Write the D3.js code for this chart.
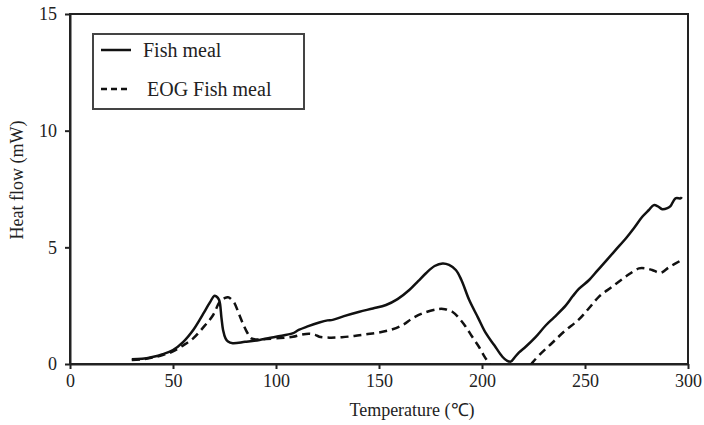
<!DOCTYPE html>
<html>
<head>
<meta charset="utf-8">
<script src="https://cdn.jsdelivr.net/npm/d3@7"></script>
<style>
  body { margin: 0; background: #fff; }
  text { font-family: "Liberation Serif", "Times New Roman", serif; fill: #222; }
</style>
</head>
<body>
<div id="chart"></div>
<script>
// Fish meal (solid)
var fish_temp = [30, 35, 40, 45, 50, 55, 60, 63, 65, 68, 70, 71, 72.4, 73.5, 74.3, 75.5, 76.7, 79, 85, 92,
    100, 108, 111, 115, 121, 125, 127.5, 133, 140.5, 147, 153.4, 159, 164.7, 169, 172.8, 177, 180.9, 184, 187.3, 190,
    193.8, 198, 201.8, 206, 209.9, 212, 213.9, 216, 218, 221.2, 226, 230.9, 235, 240.6, 244, 247, 252, 256, 260, 264.9,
    270, 274, 277.8, 281, 283.4, 285.5, 287.5, 290, 291.5, 293.9, 296.4, 297];
var fish_flow = [0.2, 0.22, 0.3, 0.42, 0.6, 0.95, 1.48, 1.9, 2.2, 2.65, 2.92, 2.9, 2.74, 2.0, 1.46, 1.1, 0.96, 0.89, 0.95, 1.03,
    1.17, 1.31, 1.46, 1.6, 1.78, 1.87, 1.89, 2.05, 2.24, 2.38, 2.53, 2.78, 3.17, 3.55, 3.89, 4.2, 4.31, 4.25, 4.03, 3.6,
    2.74, 2.0, 1.33, 0.8, 0.31, 0.15, 0.1, 0.3, 0.5, 0.74, 1.15, 1.65, 2.0, 2.5, 2.9, 3.22, 3.6, 4.0, 4.4, 4.89,
    5.4, 5.85, 6.31, 6.6, 6.81, 6.75, 6.63, 6.68, 6.77, 7.1, 7.1, 7.15];

// EOG Fish meal (dashed)
var eog_temp = [30, 35, 40, 45, 50, 55, 59.8, 65, 69.5, 72.7, 75, 76.7, 78, 79.9, 82, 83.9, 86, 88, 92, 95.2,
    100, 108.2, 112, 116, 119, 121, 126, 132, 138, 143.7, 150, 156.6, 162, 166.3, 172, 179.2, 182, 185.6, 189, 192.1,
    195, 198.5, 201, 203.4, 207, 212, 218, 222, 224.2, 228, 233.9, 240, 246.8, 252, 256.8, 263, 269.7, 276.2, 279.4, 282.6,
    286.7, 290.7, 296.4];
var eog_flow = [0.17, 0.2, 0.28, 0.38, 0.54, 0.8, 1.1, 1.6, 2.1, 2.67, 2.82, 2.86, 2.8, 2.6, 2.15, 1.74, 1.35, 1.1, 1.05, 1.07,
    1.1, 1.17, 1.25, 1.3, 1.25, 1.17, 1.13, 1.15, 1.2, 1.27, 1.35, 1.49, 1.7, 1.96, 2.2, 2.36, 2.35, 2.24, 1.95, 1.6,
    1.2, 0.74, 0.35, 0.03, -0.4, -0.6, -0.5, -0.2, 0.03, 0.4, 0.89, 1.4, 1.89, 2.4, 2.89, 3.3, 3.74, 4.1, 4.1, 4.03,
    3.91, 4.14, 4.43];

var x_ticks = [0, 50, 100, 150, 200, 250, 300];
var y_ticks = [0, 5, 10, 15];
var series_names = ['Fish meal', 'EOG Fish meal'];

var chart_width = 704;
var chart_height = 425;
var plot_left = 70, plot_right = 688, plot_top = 14, plot_bottom = 364;

var svg = d3.select('#chart')
    .append('svg')
    .attr('width', chart_width)
    .attr('height', chart_height);

// Escalas
var x_scale = d3.scaleLinear().domain([0, 300]).range([plot_left, plot_right]);
var y_scale = d3.scaleLinear().domain([0, 15]).range([plot_bottom, plot_top]);

svg.append('clipPath').attr('id', 'clip')
    .append('rect')
    .attr('x', plot_left).attr('y', plot_top)
    .attr('width', plot_right - plot_left).attr('height', plot_bottom - plot_top);

// Caixa da area
svg.append('rect')
    .attr('x', plot_left).attr('y', plot_top)
    .attr('width', plot_right - plot_left).attr('height', plot_bottom - plot_top)
    .attr('fill', 'none')
    .attr('stroke', '#222')
    .attr('stroke-width', 2);

// Eixos
var x_axis = d3.axisBottom(x_scale).tickValues(x_ticks).tickSize(5).tickSizeOuter(0);
var y_axis = d3.axisLeft(y_scale).tickValues(y_ticks).tickSize(5).tickSizeOuter(0);

var gx = svg.append('g').attr('transform', 'translate(0,' + plot_bottom + ')').call(x_axis);
var gy = svg.append('g').attr('transform', 'translate(' + plot_left + ',0)').call(y_axis);

[gx, gy].forEach(function (g) {
    g.select('.domain').attr('stroke', '#222').attr('stroke-width', 2);
    g.selectAll('.tick line').attr('stroke', '#222').attr('stroke-width', 2);
    g.selectAll('.tick text')
        .style('font-family', '"Liberation Serif", serif')
        .style('font-size', '18px')
        .attr('fill', '#222');
});
gx.selectAll('.tick text').attr('dy', '0.72em').attr('y', 10);
gy.selectAll('.tick text').attr('x', -13);

// Linhas
function make_points(xs, ys) {
    return xs.map(function (d, i) { return [d, ys[i]]; });
}
var line = d3.line()
    .x(function (d) { return x_scale(d[0]); })
    .y(function (d) { return y_scale(d[1]); })
    .curve(d3.curveCatmullRom);

var plot = svg.append('g').attr('clip-path', 'url(#clip)');

plot.append('path')
    .datum(make_points(eog_temp, eog_flow))
    .attr('d', line)
    .attr('fill', 'none')
    .attr('stroke', '#111')
    .attr('stroke-width', 2.5)
    .attr('stroke-dasharray', '8,5');

plot.append('path')
    .datum(make_points(fish_temp, fish_flow))
    .attr('d', line)
    .attr('fill', 'none')
    .attr('stroke', '#111')
    .attr('stroke-width', 2.5);

// Titulos
svg.append('text')
    .attr('x', 412).attr('y', 416)
    .attr('text-anchor', 'middle')
    .style('font-size', '18px')
    .text('Temperature (℃)');

svg.append('text')
    .attr('transform', 'translate(23,180) rotate(-90)')
    .attr('text-anchor', 'middle')
    .style('font-size', '18px')
    .text('Heat flow (mW)');

// Legenda
var legend = svg.append('g');
legend.append('rect')
    .attr('x', 93).attr('y', 34)
    .attr('width', 211).attr('height', 75)
    .attr('fill', '#fff')
    .attr('stroke', '#444')
    .attr('stroke-width', 2);

var legend_rows = [
    { y: 50, dash: null, tx: 143 },
    { y: 89, dash: '6,4', tx: 147 }
];
legend.selectAll('line')
    .data(series_names)
    .enter()
    .append('line')
    .attr('x1', 101).attr('x2', 131)
    .attr('y1', function (d, i) { return legend_rows[i].y; })
    .attr('y2', function (d, i) { return legend_rows[i].y; })
    .attr('stroke', '#111')
    .attr('stroke-width', 2.5)
    .attr('stroke-dasharray', function (d, i) { return legend_rows[i].dash; });

legend.selectAll('text')
    .data(series_names)
    .enter()
    .append('text')
    .attr('x', function (d, i) { return legend_rows[i].tx; })
    .attr('y', function (d, i) { return legend_rows[i].y + 7; })
    .style('font-size', '20px')
    .text(function (d) { return d; });
</script>
</body>
</html>
